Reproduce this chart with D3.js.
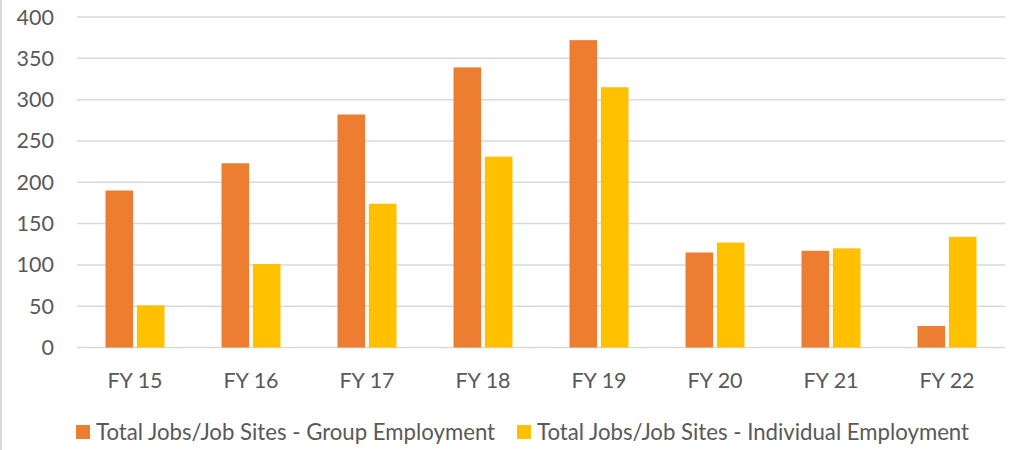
<!DOCTYPE html>
<html>
<head>
<meta charset="utf-8">
<script src="https://cdn.jsdelivr.net/npm/d3@7"></script>
<style>
  body { margin: 0; background: #fff; }
  svg text { font-family: Lato, "Open Sans", sans-serif; fill: #595959; }
</style>
</head>
<body>
<div id="chart"></div>
<script>
// data
const years = ["FY 15", "FY 16", "FY 17", "FY 18", "FY 19", "FY 20", "FY 21", "FY 22"]
const groupJobs = [190, 223, 282, 339, 372, 115, 117, 26]
const individualJobs = [51, 101, 174, 231, 315, 127, 120, 134]
const seriesNames = ["Total Jobs/Job Sites - Group Employment", "Total Jobs/Job Sites - Individual Employment"]
const yTicks = [0, 50, 100, 150, 200, 250, 300, 350, 400]

const width = 1014, height = 450
const colors = ["#ed7d31", "#ffc000"]

const svg = d3.select("#chart").append("svg")
    .attr("width", width)
    .attr("height", height)

// thin frame edge at left
svg.append("line")
    .attr("x1", 1).attr("x2", 1)
    .attr("y1", 0).attr("y2", height)
    .attr("stroke", "#d9d9d9").attr("stroke-width", 2)

const x = d3.scaleBand()
    .domain(years)
    .range([77, 1005])

const y = d3.scaleLinear()
    .domain([0, 400])
    .range([347.5, 17])

// gridlines
svg.append("g")
    .selectAll("line")
    .data(yTicks)
    .join("line")
    .attr("x1", 77).attr("x2", 1005)
    .attr("y1", d => y(d)).attr("y2", d => y(d))
    .attr("stroke", "#d9d9d9")
    .attr("stroke-width", 1.5)

// y labels
svg.append("g")
    .selectAll("text")
    .data(yTicks)
    .join("text")
    .attr("x", 54)
    .attr("y", d => y(d))
    .attr("dy", "0.35em")
    .attr("text-anchor", "end")
    .style("font-size", "21.5px")
    .text(d => d)

const inner = d3.scaleBand()
    .domain([0, 1])
    .range([0, 59])
    .paddingInner(0.12)

const rows = years.map((yr, i) => ({ yr, vals: [groupJobs[i], individualJobs[i]] }))

const groups = svg.append("g")
    .selectAll("g")
    .data(rows)
    .join("g")
    .attr("transform", d => `translate(${x(d.yr) + (x.bandwidth() - 59) / 2},0)`)

groups.selectAll("rect")
    .data(d => d.vals.map((v, k) => ({ v, k })))
    .join("rect")
    .attr("x", d => inner(d.k))
    .attr("width", inner.bandwidth())
    .attr("y", d => y(d.v))
    .attr("height", d => y(0) - y(d.v))
    .attr("fill", d => colors[d.k])

// x labels
svg.append("g")
    .selectAll("text")
    .data(years)
    .join("text")
    .attr("x", d => x(d) + x.bandwidth() / 2)
    .attr("y", 388)
    .attr("text-anchor", "middle")
    .style("font-size", "21.5px")
    .text(d => d)

// legend
const legendX = [76, 517]
const legend = svg.append("g")
    .selectAll("g")
    .data(seriesNames)
    .join("g")
    .attr("transform", (d, i) => `translate(${legendX[i]},425)`)

legend.append("rect")
    .attr("width", 14).attr("height", 14)
    .attr("fill", (d, i) => colors[i])

legend.append("text")
    .attr("x", 20)
    .attr("y", 15)
    .style("font-size", "22.2px")
    .text(d => d)
</script>
</body>
</html>
